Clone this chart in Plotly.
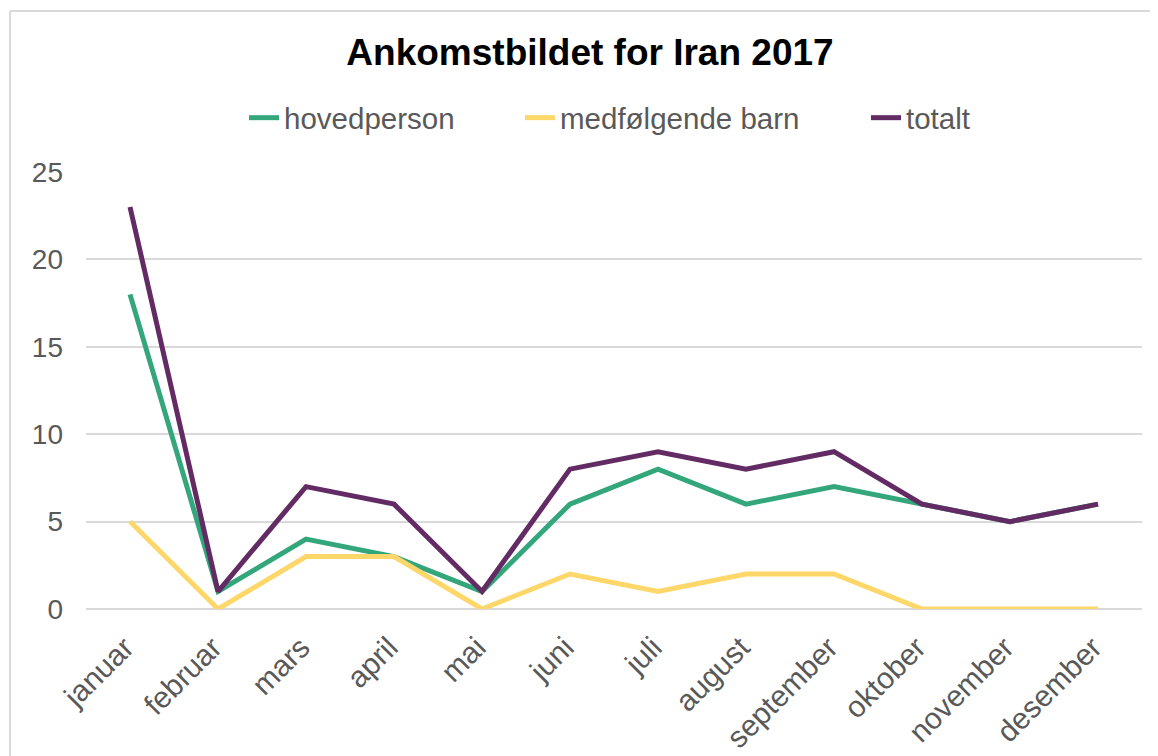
import plotly.graph_objects as go

months = ["januar", "februar", "mars", "april", "mai", "juni", "juli",
          "august", "september", "oktober", "november", "desember"]
hovedperson = [18, 1, 4, 3, 1, 6, 8, 6, 7, 6, 5, 6]
medfolgende_barn = [5, 0, 3, 3, 0, 2, 1, 2, 2, 0, 0, 0]
totalt = [23, 1, 7, 6, 1, 8, 9, 8, 9, 6, 5, 6]

# page has an 8px body margin; figure is sized to fill the rest
W, H = 1150, 748
L, R, T, B = 78, 16, 164, 147
pw, ph = W - L - R, H - T - B

font = "Liberation Sans, Arial, sans-serif"
fig = go.Figure()
fig.add_trace(go.Scatter(x=months, y=hovedperson, mode="lines", name="hovedperson",
                         line=dict(color="#33a77b", width=5), legend="legend"))
fig.add_trace(go.Scatter(x=months, y=medfolgende_barn, mode="lines", name="medfølgende barn",
                         line=dict(color="#fed76b", width=5), legend="legend2"))
fig.add_trace(go.Scatter(x=months, y=totalt, mode="lines", name="totalt",
                         line=dict(color="#622b64", width=5), legend="legend3"))

bx = (2 - L) / pw
by = 1 + (T - 3) / ph
fig.add_shape(type="line", xref="paper", yref="paper", x0=bx, x1=bx, y0=by, y1=-1,
              line=dict(color="#d9d9d9", width=2))
fig.add_shape(type="line", xref="paper", yref="paper", x0=bx, x1=1.2, y0=by, y1=by,
              line=dict(color="#d9d9d9", width=2))

leg_y = 1 + (T - 110) / ph
def leg(px):
    return dict(orientation="h", x=(px - L) / pw, xanchor="left", y=leg_y, yanchor="middle",
                font=dict(size=29.5, color="#595959", family=font), bgcolor="rgba(0,0,0,0)")

fig.update_layout(
    width=W, height=H,
    margin=dict(l=L, r=R, t=T, b=B, autoexpand=False),
    paper_bgcolor="white", plot_bgcolor="white",
    font=dict(family=font, color="#595959"),
    title=dict(text="<b>Ankomstbildet for Iran 2017</b>", x=582 / W, xanchor="center",
               y=1 - 44 / H, yanchor="middle", font=dict(size=37, color="black", family=font)),
    legend=leg(236),
    legend2=leg(512),
    legend3=leg(858),
    showlegend=True,
    xaxis=dict(showgrid=False, tickangle=-45, tickfont=dict(size=30, color="#595959"),
               showline=False, ticks="", range=[-0.5, 11.5], ticklabelshift=-5,
               ticklabelstandoff=14, automargin=False),
    yaxis=dict(range=[0, 25], dtick=5, showgrid=True, gridcolor="#d9d9d9", gridwidth=1.5,
               zeroline=True, zerolinecolor="#d9d9d9", zerolinewidth=1.5,
               tickfont=dict(size=28, color="#595959"), ticks="", ticklabelstandoff=22,
               automargin=False),
)
fig.write_html("out.html")
